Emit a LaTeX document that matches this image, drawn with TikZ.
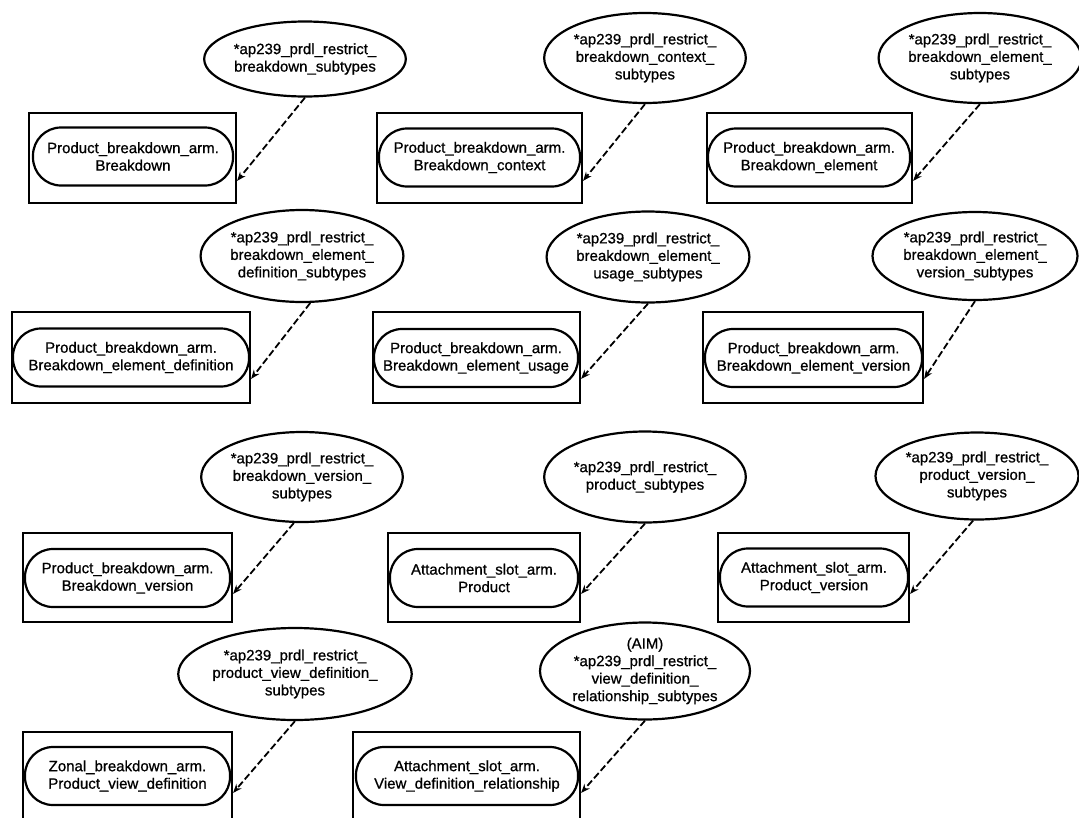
\documentclass[tikz,border=0pt]{standalone}
\usepackage{fontspec}
\setmainfont{Liberation Sans}
\newfontfamily\heavyfont[FakeBold=0.8]{Liberation Sans}
\usetikzlibrary{shapes.geometric,arrows.meta}
\begin{document}
\begin{tikzpicture}[x=1pt,y=-1pt,
  every node/.style={font=\heavyfont\fontsize{15}{17.5}\selectfont, align=center},
  outerbox/.style={draw, line width=2.2pt, rectangle, inner sep=0pt},
  pill/.style={draw, line width=2.2pt, rectangle, rounded corners=28pt, inner sep=0pt, minimum height=58pt},
  tag/.style={draw, line width=2.2pt, ellipse, inner sep=0pt},
  link/.style={line width=1.8pt, dash pattern=on 7pt off 3pt, -{Stealth[length=9pt,width=7pt]}}
]
\useasboundingbox (0,0) rectangle (1079,817);
\fill[white] (0,0) rectangle (1079,817);

% Row 1
\node[outerbox, minimum width=207pt, minimum height=90pt] (r1) at (132.5,158) {};
\node[pill, minimum width=200pt] (p1) at (133,156.5) {Product\_breakdown\_arm.\\Breakdown};
\node[tag, minimum width=186pt, minimum height=75pt] (e1) at (305,59) {*ap239\_prdl\_restrict\_\\breakdown\_subtypes};

\node[outerbox, minimum width=205pt, minimum height=90pt] (r2) at (479.5,158) {};
\node[pill, minimum width=201pt] (p2) at (479.5,157.5) {Product\_breakdown\_arm.\\Breakdown\_context};
\node[tag, minimum width=186pt, minimum height=90pt] (e2) at (645,58) {*ap239\_prdl\_restrict\_\\breakdown\_context\_\\subtypes};

\node[outerbox, minimum width=205pt, minimum height=90pt] (r3) at (809.5,158) {};
\node[pill, minimum width=202pt] (p3) at (809,157.5) {Product\_breakdown\_arm.\\Breakdown\_element};
\node[tag, minimum width=191pt, minimum height=90pt] (e3) at (980,58) {*ap239\_prdl\_restrict\_\\breakdown\_element\_\\subtypes};

% Row 2
\node[outerbox, minimum width=238pt, minimum height=91pt] (r4) at (131,357.5) {};
\node[pill, minimum width=236pt] (p4) at (131,357.5) {Product\_breakdown\_arm.\\Breakdown\_element\_definition};
\node[tag, minimum width=195pt, minimum height=92pt] (e4) at (302,256) {*ap239\_prdl\_restrict\_\\breakdown\_element\_\\definition\_subtypes};

\node[outerbox, minimum width=207pt, minimum height=91pt] (r5) at (476.5,357.5) {};
\node[pill, minimum width=204pt] (p5) at (476,358) {Product\_breakdown\_arm.\\Breakdown\_element\_usage};
\node[tag, minimum width=193pt, minimum height=91pt] (e5) at (648,257) {*ap239\_prdl\_restrict\_\\breakdown\_element\_\\usage\_subtypes};

\node[outerbox, minimum width=220pt, minimum height=91pt] (r6) at (813,357.5) {};
\node[pill, minimum width=217pt] (p6) at (813.5,358) {Product\_breakdown\_arm.\\Breakdown\_element\_version};
\node[tag, minimum width=205pt, minimum height=88pt] (e6) at (975,256) {*ap239\_prdl\_restrict\_\\breakdown\_element\_\\version\_subtypes};

% Row 3
\node[outerbox, minimum width=209pt, minimum height=89pt] (r7) at (127.5,577.5) {};
\node[pill, minimum width=205pt] (p7) at (127.5,578) {Product\_breakdown\_arm.\\Breakdown\_version};
\node[tag, minimum width=195pt, minimum height=90pt] (e7) at (302,477) {*ap239\_prdl\_restrict\_\\breakdown\_version\_\\subtypes};

\node[outerbox, minimum width=192pt, minimum height=89pt] (r8) at (484,577.5) {};
\node[pill, minimum width=188pt] (p8) at (484,578) {Attachment\_slot\_arm.\\Product};
\node[tag, minimum width=188pt, minimum height=91pt] (e8) at (645,477) {*ap239\_prdl\_restrict\_\\product\_subtypes};

\node[outerbox, minimum width=191pt, minimum height=89pt] (r9) at (813.5,577.5) {};
\node[pill, minimum width=188pt] (p9) at (814,577.5) {Attachment\_slot\_arm.\\Product\_version};
\node[tag, minimum width=203pt, minimum height=87pt] (e9) at (977,476) {*ap239\_prdl\_restrict\_\\product\_version\_\\subtypes};

% Row 4
\node[outerbox, minimum width=209pt, minimum height=98pt] (r10) at (127.5,781) {};
\node[pill, minimum width=205pt] (p10) at (127.5,776) {Zonal\_breakdown\_arm.\\Product\_view\_definition};
\node[tag, minimum width=210pt, minimum height=92pt] (e10) at (295,674) {*ap239\_prdl\_restrict\_\\product\_view\_definition\_\\subtypes};

\node[outerbox, minimum width=227pt, minimum height=98pt] (r11) at (466.5,781) {};
\node[pill, minimum width=222pt] (p11) at (467,776) {Attachment\_slot\_arm.\\View\_definition\_relationship};
\node[tag, minimum width=210pt, minimum height=97pt] (e11) at (645,671) {(AIM)\\*ap239\_prdl\_restrict\_\\view\_definition\_\\relationship\_subtypes};

% Connectors
\draw[link] (e1.south) -- ([yshift=-69pt]r1.north east);
\draw[link] (e2.south) -- ([yshift=-69pt]r2.north east);
\draw[link] (e3.south) -- ([yshift=-69pt]r3.north east);
\draw[link] (e4.-80) -- ([yshift=-68pt]r4.north east);
\draw[link] (e5.south) -- ([yshift=-68pt]r5.north east);
\draw[link] (e6.south) -- ([yshift=-68pt]r6.north east);
\draw[link] (e7.-100) -- ([yshift=-62pt]r7.north east);
\draw[link] (e8.south) -- ([yshift=-62pt]r8.north east);
\draw[link] (e9.-95) -- ([yshift=-62pt]r9.north east);
\draw[link] (e10.south) -- ([yshift=-62pt]r10.north east);
\draw[link] (e11.south) -- ([yshift=-62pt]r11.north east);
\end{tikzpicture}
\end{document}
